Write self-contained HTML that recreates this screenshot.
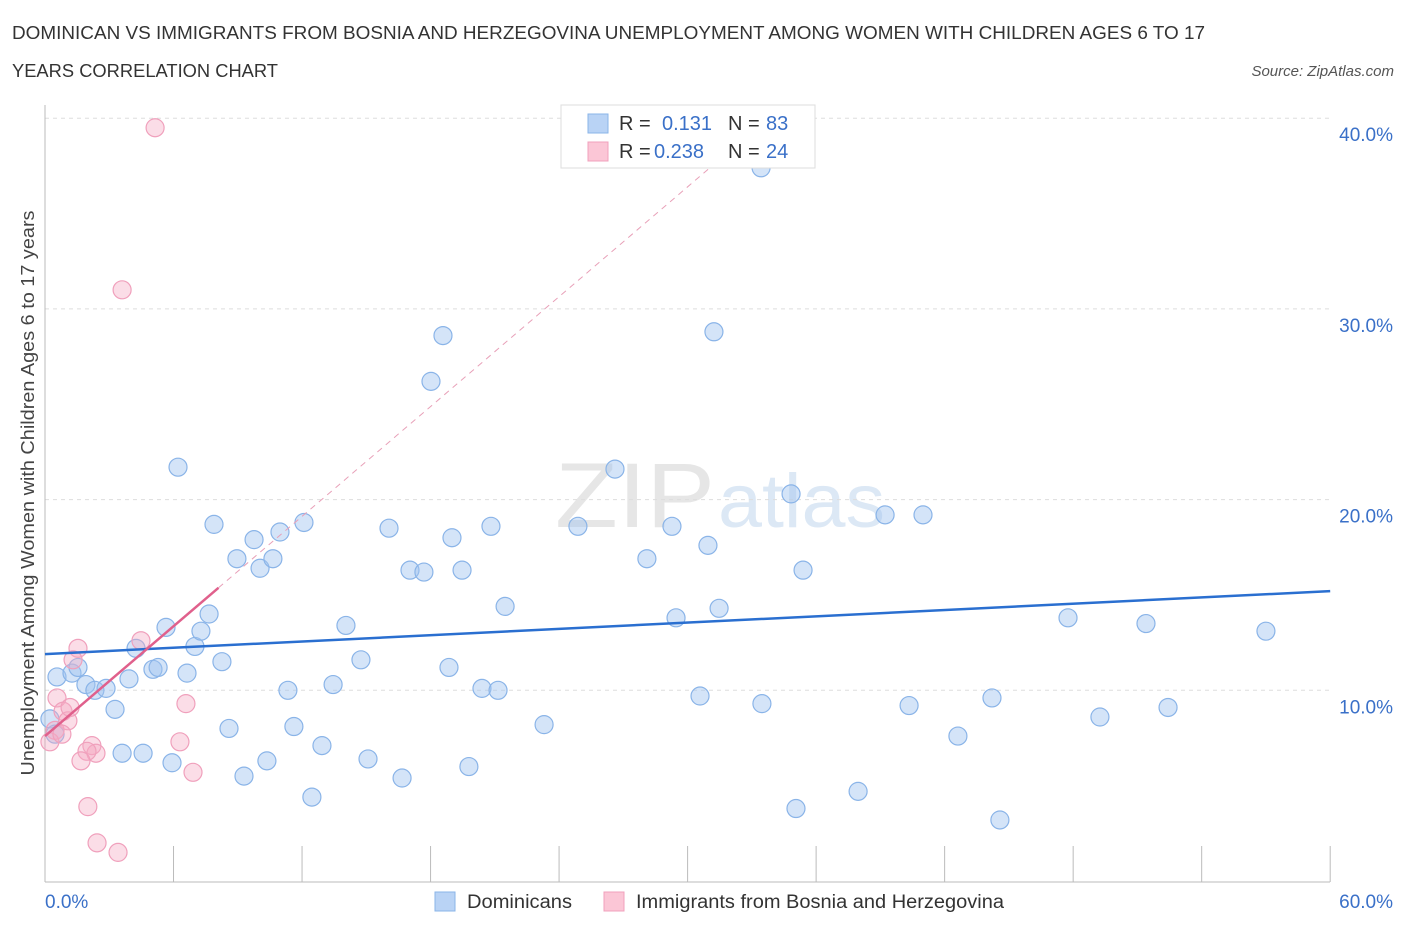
<!DOCTYPE html>
<html><head><meta charset="utf-8"><style>
body{margin:0;background:#fff;font-family:"Liberation Sans",sans-serif;}
svg text{font-family:"Liberation Sans",sans-serif;}
</style></head><body>
<svg id="chart" width="1406" height="930" viewBox="0 0 1406 930">
<text x="12" y="39" font-size="18" fill="#333" textLength="1193" lengthAdjust="spacingAndGlyphs">DOMINICAN VS IMMIGRANTS FROM BOSNIA AND HERZEGOVINA UNEMPLOYMENT AMONG WOMEN WITH CHILDREN AGES 6 TO 17</text>
<text x="12" y="77" font-size="18" fill="#333" textLength="266" lengthAdjust="spacingAndGlyphs">YEARS CORRELATION CHART</text>
<text x="1394" y="76" font-size="15" fill="#555" font-style="italic" text-anchor="end">Source: ZipAtlas.com</text>
<text x="555" y="527" font-size="92" fill="#e6e6e6" textLength="160" lengthAdjust="spacingAndGlyphs" font-family="Liberation Serif">ZIP</text>
<text x="718" y="527" font-size="76" fill="#dce8f5" textLength="167" lengthAdjust="spacingAndGlyphs">atlas</text>
<g id="grid"></g>
<g id="axes"></g>
<g id="pts"></g>
<g id="lines"></g>
<text transform="translate(34,493) rotate(-90)" font-size="18" fill="#444" text-anchor="middle" textLength="565" lengthAdjust="spacingAndGlyphs">Unemployment Among Women with Children Ages 6 to 17 years</text>
<g>
<rect x="561" y="105" width="254" height="63" fill="#fff" stroke="#ddd"/>
<rect x="588" y="114" width="20" height="19" fill="#b9d3f5" stroke="#8ab4e8"/>
<rect x="588" y="142" width="20" height="19" fill="#fbc6d6" stroke="#f0a0bc"/>
<text x="619" y="130" font-size="20" fill="#333">R = </text><text x="662" y="130" font-size="20" fill="#3a70c8">0.131</text>
<text x="728" y="130" font-size="20" fill="#333">N = </text><text x="766" y="130" font-size="20" fill="#3a70c8">83</text>
<text x="619" y="158" font-size="20" fill="#333">R = </text><text x="654" y="158" font-size="20" fill="#3a70c8">0.238</text>
<text x="728" y="158" font-size="20" fill="#333">N = </text><text x="766" y="158" font-size="20" fill="#3a70c8">24</text>
</g>
<g>
<rect x="435" y="892" width="20" height="19" fill="#b9d3f5" stroke="#8ab4e8"/>
<text x="467" y="908" font-size="19" fill="#333" textLength="105" lengthAdjust="spacingAndGlyphs">Dominicans</text>
<rect x="604" y="892" width="20" height="19" fill="#fbc6d6" stroke="#f0a0bc"/>
<text x="636" y="908" font-size="19" fill="#333" textLength="368" lengthAdjust="spacingAndGlyphs">Immigrants from Bosnia and Herzegovina</text>
</g>
</svg>
<script>
const blueX=[0.56,1.26,1.54,1.91,2.33,2.85,3.27,3.6,3.92,4.25,4.58,5.04,5.28,5.65,5.93,6.21,6.63,7.0,7.28,7.66,7.89,8.26,8.59,8.96,9.29,9.76,10.04,10.36,10.64,10.97,11.34,11.62,12.09,12.46,12.93,13.45,14.05,14.75,15.08,16.06,16.67,17.04,17.69,18.02,18.58,18.86,19.0,19.47,19.79,20.4,20.82,21.15,21.48,23.3,24.88,26.61,28.1,29.27,29.46,30.58,30.95,31.23,31.47,33.43,33.47,34.83,35.06,35.39,37.96,39.22,40.34,40.99,42.62,44.21,44.58,47.76,49.25,51.4,52.43,57.0,0.23,0.47];
const blueY=[10.7,10.9,11.2,10.3,10.0,10.1,9.0,6.7,10.6,12.2,6.7,11.1,11.2,13.3,6.2,21.7,10.9,12.3,13.1,14.0,18.7,11.5,8.0,16.9,5.5,17.9,16.4,6.3,16.9,18.3,10.0,8.1,18.8,4.4,7.1,10.3,13.4,11.6,6.4,18.5,5.4,16.3,16.2,26.2,28.6,11.2,18.0,16.3,6.0,10.1,18.6,10.0,14.4,8.2,18.6,21.6,16.9,18.6,13.8,9.7,17.6,28.8,14.3,37.4,9.3,20.3,3.8,16.3,4.7,19.2,9.2,19.2,7.6,9.6,3.2,13.8,8.6,13.5,9.1,13.1,8.5,7.7];
const pinkX=[5.14,3.6,1.54,1.31,4.48,6.58,6.3,0.56,0.84,1.07,0.47,0.23,2.19,2.38,1.96,1.68,6.91,2.0,2.43,3.41,0.79,1.17];
const pinkY=[39.5,31.0,12.2,11.6,12.6,9.3,7.3,9.6,8.9,8.4,7.9,7.3,7.1,6.7,6.8,6.3,5.7,3.9,2.0,1.5,7.7,9.1];
const yTicks=[10,20,30,40];
const yTickLabels=["10.0%","20.0%","30.0%","40.0%"];
const xTicks=[0,6,12,18,24,30,36,42,48,54,60];
const blueLine=[11.9,15.2];
const pinkLine=[7.6,0.96];
const pinkSolidEnd=8.1;
const NS="http://www.w3.org/2000/svg";
const sx=v=>45+v*21.42, sy=v=>881-v*19.07;
function mk(t,a,p){const e=document.createElementNS(NS,t);for(const k in a)e.setAttribute(k,a[k]);p.appendChild(e);return e;}
const grid=document.getElementById('grid'),axes=document.getElementById('axes'),pts=document.getElementById('pts'),lines=document.getElementById('lines');
yTicks.forEach((v,i)=>{
 const l=mk('line',{x1:45,x2:1330,y1:sy(v),y2:sy(v),stroke:'#ddd','stroke-dasharray':'4 4'},grid);
 
 
 const t=mk('text',{x:1393,y:sy(v)+23,'font-size':19,fill:'#3a70c8','text-anchor':'end'},axes);
 t.textContent=yTickLabels[i];
 
 
});
mk('line',{x1:45,x2:45,y1:105,y2:882,stroke:'#bbb'},axes);
mk('line',{x1:45,x2:1330,y1:882,y2:882,stroke:'#bbb'},axes);
xTicks.forEach(v=>{const l=mk('line',{x1:sx(v),x2:sx(v),y1:846,y2:882,stroke:'#bbb'},axes);
 
 });
let t0=mk('text',{x:45,y:908,'font-size':19,fill:'#3a70c8'},axes);t0.textContent='0.0%';


let t1=mk('text',{x:1393,y:908,'font-size':19,fill:'#3a70c8','text-anchor':'end'},axes);t1.textContent='60.0%';


blueX.forEach((x,i)=>{const c=mk('circle',{cx:sx(x),cy:sy(blueY[i]),r:9,fill:'rgba(160,196,240,0.45)',stroke:'#8ab4e8','stroke-width':1.2},pts);
 
 });
pinkX.forEach((x,i)=>{const c=mk('circle',{cx:sx(x),cy:sy(pinkY[i]),r:9,fill:'rgba(245,170,195,0.4)',stroke:'#f0a0bc','stroke-width':1.2},pts);
 
 });
const bl=mk('line',{x1:sx(0),y1:sy(blueLine[0]),x2:sx(60),y2:sy(blueLine[1]),stroke:'#2a6fd0','stroke-width':2.5},lines);


const xEnd=(40-pinkLine[0])/pinkLine[1];
const pd=mk('line',{x1:sx(pinkSolidEnd),y1:sy(pinkLine[0]+pinkLine[1]*pinkSolidEnd),x2:sx(xEnd),y2:sy(40),stroke:'#e8a0b8','stroke-width':1,'stroke-dasharray':'6 5'},lines);


const pl=mk('line',{x1:sx(0),y1:sy(pinkLine[0]),x2:sx(pinkSolidEnd),y2:sy(pinkLine[0]+pinkLine[1]*pinkSolidEnd),stroke:'#e0608c','stroke-width':2.5},lines);


</script>
</body></html>
